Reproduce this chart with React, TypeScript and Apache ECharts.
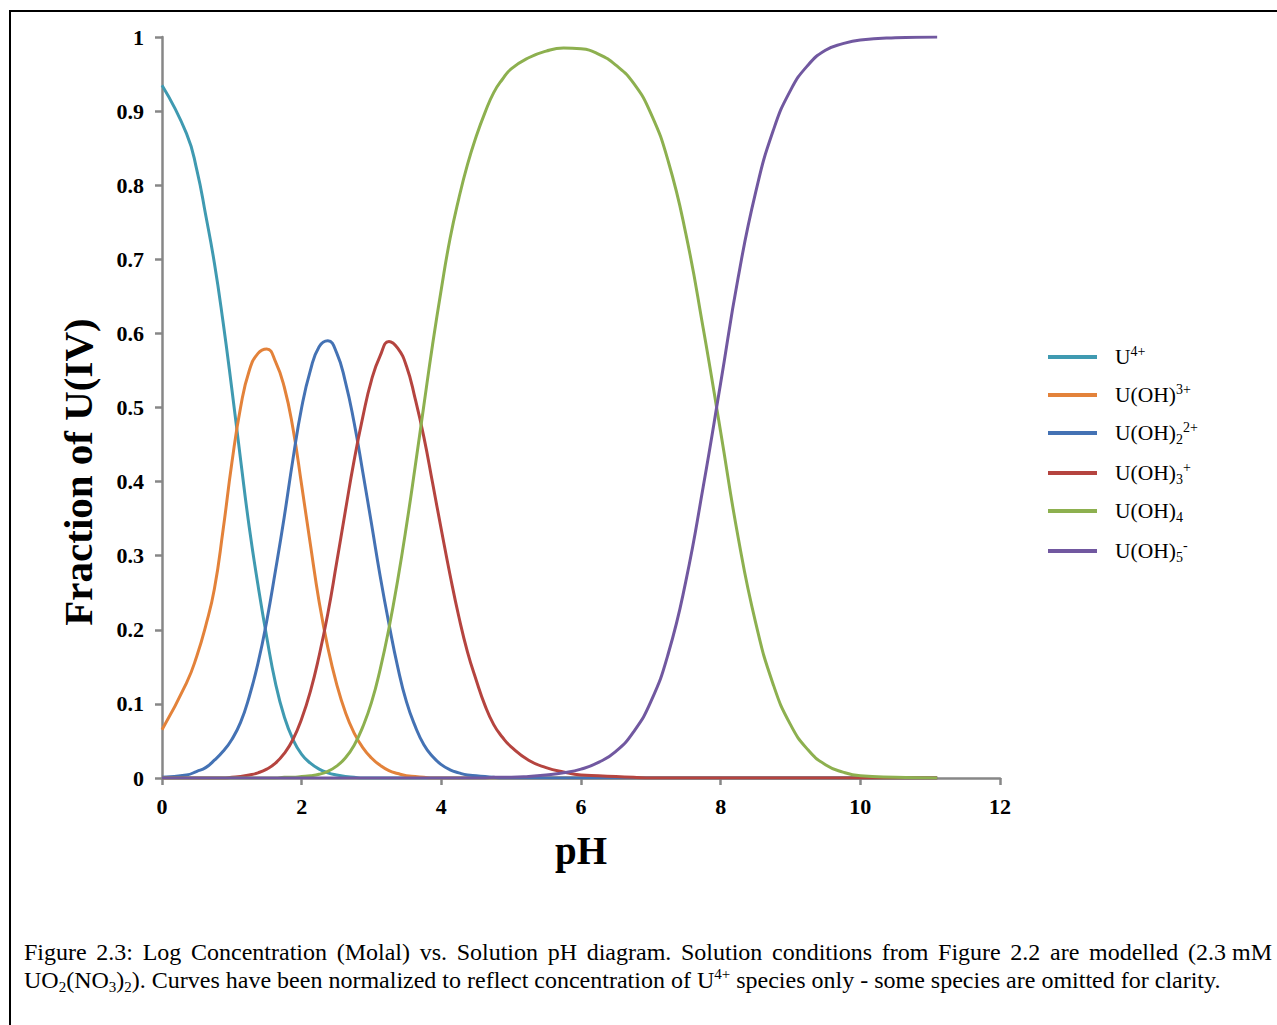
import React, { useEffect, useRef } from "react";
import * as echarts from "echarts";

// pH grid (x values)
const pH = [0, 0.35, 0.5, 0.625, 0.75, 0.875, 1, 1.125, 1.25, 1.375, 1.5, 1.625, 1.75, 1.875, 2, 2.125, 2.25, 2.375, 2.5, 2.625, 2.75, 2.875, 3, 3.125, 3.25, 3.375, 3.5, 3.625, 3.75, 3.875, 4, 4.125, 4.25, 4.375, 4.5, 4.625, 4.75, 4.875, 5, 5.25, 5.5, 5.75, 6, 6.25, 6.5, 6.75, 7, 7.25, 7.5, 7.75, 8, 8.25, 8.5, 8.75, 9, 9.25, 9.5, 9.75, 10, 10.5, 11.1];

// Fractions of U(IV)
const u4 = [0.935, 0.87, 0.82, 0.76, 0.695, 0.615, 0.525, 0.43, 0.338, 0.26, 0.19, 0.128, 0.083, 0.052, 0.032, 0.02, 0.012, 0.007, 0.004, 0.002, 0.001, 0, 0, 0, 0, 0, 0, 0, 0, 0, 0, 0, 0, 0, 0, 0, 0, 0, 0, 0, 0, 0, 0, 0, 0, 0, 0, 0, 0, 0, 0, 0, 0, 0, 0, 0, 0, 0, 0, 0, 0];
const uoh = [0.065, 0.128, 0.165, 0.205, 0.255, 0.335, 0.425, 0.5, 0.55, 0.573, 0.579, 0.562, 0.528, 0.472, 0.395, 0.315, 0.238, 0.176, 0.127, 0.089, 0.061, 0.041, 0.027, 0.017, 0.01, 0.006, 0.003, 0.002, 0.001, 0, 0, 0, 0, 0, 0, 0, 0, 0, 0, 0, 0, 0, 0, 0, 0, 0, 0, 0, 0, 0, 0, 0, 0, 0, 0, 0, 0, 0, 0, 0, 0];
const uoh2 = [0.001, 0.004, 0.009, 0.014, 0.024, 0.036, 0.052, 0.075, 0.11, 0.155, 0.212, 0.28, 0.352, 0.43, 0.5, 0.55, 0.582, 0.59, 0.574, 0.535, 0.48, 0.413, 0.343, 0.272, 0.208, 0.15, 0.103, 0.07, 0.045, 0.029, 0.018, 0.011, 0.007, 0.004, 0.003, 0.002, 0.001, 0, 0, 0, 0, 0, 0, 0, 0, 0, 0, 0, 0, 0, 0, 0, 0, 0, 0, 0, 0, 0, 0, 0, 0];
const uoh3 = [0, 0, 0, 0, 0, 0, 0.001, 0.002, 0.004, 0.007, 0.012, 0.02, 0.033, 0.052, 0.08, 0.117, 0.165, 0.222, 0.29, 0.36, 0.428, 0.487, 0.537, 0.57, 0.589, 0.58, 0.556, 0.512, 0.46, 0.398, 0.335, 0.274, 0.218, 0.17, 0.132, 0.098, 0.072, 0.055, 0.042, 0.024, 0.014, 0.008, 0.004, 0.003, 0.002, 0.001, 0, 0, 0, 0, 0, 0, 0, 0, 0, 0, 0, 0, 0, 0, 0];
const uoh4 = [0, 0, 0, 0, 0, 0, 0, 0, 0, 0, 0, 0, 0.001, 0.001, 0.002, 0.003, 0.005, 0.009, 0.016, 0.027, 0.044, 0.069, 0.102, 0.147, 0.202, 0.267, 0.34, 0.42, 0.503, 0.585, 0.66, 0.728, 0.782, 0.828, 0.866, 0.898, 0.925, 0.943, 0.957, 0.972, 0.981, 0.985, 0.984, 0.977, 0.962, 0.938, 0.897, 0.832, 0.735, 0.607, 0.467, 0.325, 0.21, 0.127, 0.072, 0.038, 0.018, 0.008, 0.003, 0.001, 0];
const uoh5 = [0, 0, 0, 0, 0, 0, 0, 0, 0, 0, 0, 0, 0, 0, 0, 0, 0, 0, 0, 0, 0, 0, 0, 0, 0, 0, 0, 0, 0, 0, 0, 0, 0, 0, 0, 0, 0.001, 0.001, 0.001, 0.002, 0.004, 0.007, 0.012, 0.021, 0.036, 0.062, 0.103, 0.168, 0.265, 0.393, 0.533, 0.675, 0.79, 0.873, 0.928, 0.962, 0.982, 0.991, 0.996, 0.999, 1.0];

const seriesNames = ["U4+", "U(OH)3+", "U(OH)2 2+", "U(OH)3 +", "U(OH)4", "U(OH)5 -"];
const seriesValues = [u4, uoh, uoh2, uoh3, uoh4, uoh5];
const seriesColors = ["#3F9AB1", "#E3823A", "#4472B4", "#B5443F", "#8DB04F", "#7158A0"];
const legendRich: Record<string, string> = {
  "U4+": "{sp| }{m|U}{sup|4+}",
  "U(OH)3+": "{sp| }{m|U(OH)}{sup|3+}",
  "U(OH)2 2+": "{sp| }{m|U(OH)}{sub|2}{sup|2+}",
  "U(OH)3 +": "{sp| }{m|U(OH)}{sub|3}{sup|+}",
  "U(OH)4": "{sp| }{m|U(OH)}{sub|4}",
  "U(OH)5 -": "{sp| }{m|U(OH)}{sub|5}{sup|-}",
};

const xMin = 0, xMax = 12, xStep = 2;
const yMin = 0, yMax = 1, yStep = 0.1;

const xTitle = "pH";
const yTitle = "Fraction of U(IV)";
const captionLine1 = "Figure 2.3: Log Concentration (Molal) vs. Solution pH diagram. Solution conditions from Figure 2.2 are modelled (2.3\u00a0mM";
const captionLine2Rich =
  "{n|UO}{sb|2}{n|(NO}{sb|3}{n|)}{sb|2}{n|). Curves have been normalized to reflect concentration of U}{sp|4+}{n| species only - some species are omitted for clarity.}";

const FONT = '"Liberation Serif", "Times New Roman", Times, serif';
const AXIS_GRAY = "#878787";

export default function App() {
  const ref = useRef<HTMLDivElement>(null);

  useEffect(() => {
    if (!ref.current) return;
    const chart = echarts.init(ref.current, undefined, { renderer: "svg" });

    // justify caption line 1 across the text block
    const capFont = 24;
    const capLeft = 24;
    const capRight = 1272;
    const words = captionLine1.split(" ");
    const canvas = document.createElement("canvas");
    const ctx = canvas.getContext("2d")!;
    ctx.font = `${capFont}px "Liberation Serif"`;
    const widths = words.map((w) => ctx.measureText(w).width);
    const total = widths.reduce((a, b) => a + b, 0);
    const gap = Math.max(4, (capRight - capLeft - total) / (words.length - 1));
    let cx = capLeft;
    const wordEls: any[] = words.map((w, i) => {
      const el = {
        type: "text",
        x: cx,
        y: 952,
        silent: true,
        style: {
          text: w,
          fontFamily: FONT,
          fontSize: capFont,
          fill: "#000",
          textAlign: "left",
          textVerticalAlign: "middle",
        },
      };
      cx += widths[i] + gap;
      return el;
    });

    const option: any = {
      animation: false,
      backgroundColor: "#ffffff",
      grid: { left: 162, right: 277, top: 37, bottom: 247, containLabel: false },
      xAxis: {
        type: "value",
        min: xMin,
        max: xMax,
        interval: xStep,
        axisLine: { show: true, lineStyle: { color: AXIS_GRAY, width: 2.5 } },
        axisTick: { show: true, length: 7, lineStyle: { color: AXIS_GRAY, width: 2.5 } },
        axisLabel: { margin: 17, fontFamily: FONT, fontWeight: "bold", fontSize: 22, color: "#000" },
        splitLine: { show: false },
      },
      yAxis: {
        type: "value",
        min: yMin,
        max: yMax,
        interval: yStep,
        axisLine: { show: true, lineStyle: { color: AXIS_GRAY, width: 2.5 } },
        axisTick: { show: true, length: 7, lineStyle: { color: AXIS_GRAY, width: 2.5 } },
        axisLabel: { margin: 18, fontFamily: FONT, fontWeight: "bold", fontSize: 22, color: "#000" },
        splitLine: { show: false },
      },
      legend: {
        orient: "vertical",
        left: 1048,
        top: 344,
        padding: 0,
        itemGap: 14,
        itemWidth: 49,
        itemHeight: 4,
        icon: "rect",
        selectedMode: false,
        data: seriesNames,
        formatter: (name: string) => legendRich[name] || name,
        textStyle: {
          color: "#000",
          fontFamily: FONT,
          fontSize: 21.5,
          rich: {
            sp: { width: 13, fontSize: 21.5, lineHeight: 26, fontFamily: FONT },
            m: { fontSize: 21.5, lineHeight: 26, fontFamily: FONT, color: "#000" },
            sup: { fontSize: 14, lineHeight: 18, verticalAlign: "top", fontFamily: FONT, color: "#000" },
            sub: { fontSize: 14, lineHeight: 14, verticalAlign: "bottom", fontFamily: FONT, color: "#000" },
          },
        },
      },
      series: seriesNames.map((name, i) => ({
        name,
        type: "line",
        data: pH.map((x, j) => [x, seriesValues[i][j]]),
        showSymbol: false,
        smooth: 0.5,
        color: seriesColors[i],
        lineStyle: { width: 3, color: seriesColors[i] },
        z: 2 + i,
      })),
      graphic: [
        {
          type: "rect",
          silent: true,
          shape: { x: 10, y: 11, width: 1400, height: 1200 },
          style: { fill: "none", stroke: "#000", lineWidth: 2 },
          z: 100,
        },
        {
          type: "text",
          x: 581,
          y: 850,
          silent: true,
          style: {
            text: xTitle,
            fontFamily: FONT,
            fontWeight: "bold",
            fontSize: 39,
            fill: "#000",
            textAlign: "center",
            textVerticalAlign: "middle",
          },
        },
        {
          type: "text",
          x: 78,
          y: 472,
          rotation: Math.PI / 2,
          silent: true,
          style: {
            text: yTitle,
            fontFamily: FONT,
            fontWeight: "bold",
            fontSize: 41,
            fill: "#000",
            textAlign: "center",
            textVerticalAlign: "middle",
          },
        },
        ...wordEls,
        {
          type: "text",
          x: capLeft,
          y: 980,
          silent: true,
          style: {
            text: captionLine2Rich,
            fontFamily: FONT,
            fontSize: capFont,
            fill: "#000",
            textAlign: "left",
            textVerticalAlign: "middle",
            rich: {
              n: { fontFamily: FONT, fontSize: capFont, lineHeight: 28, fill: "#000" },
              sb: { fontFamily: FONT, fontSize: 15, lineHeight: 15, verticalAlign: "bottom", fill: "#000" },
              sp: { fontFamily: FONT, fontSize: 15, lineHeight: 22, verticalAlign: "top", fill: "#000" },
            },
          },
        },
      ],
    };
    chart.setOption(option);
    return () => {
      chart.dispose();
    };
  }, []);

  return (
    <div
      ref={ref}
      style={{ position: "fixed", left: 0, top: 0, width: 1277, height: 1025, background: "#fff" }}
    />
  );
}
